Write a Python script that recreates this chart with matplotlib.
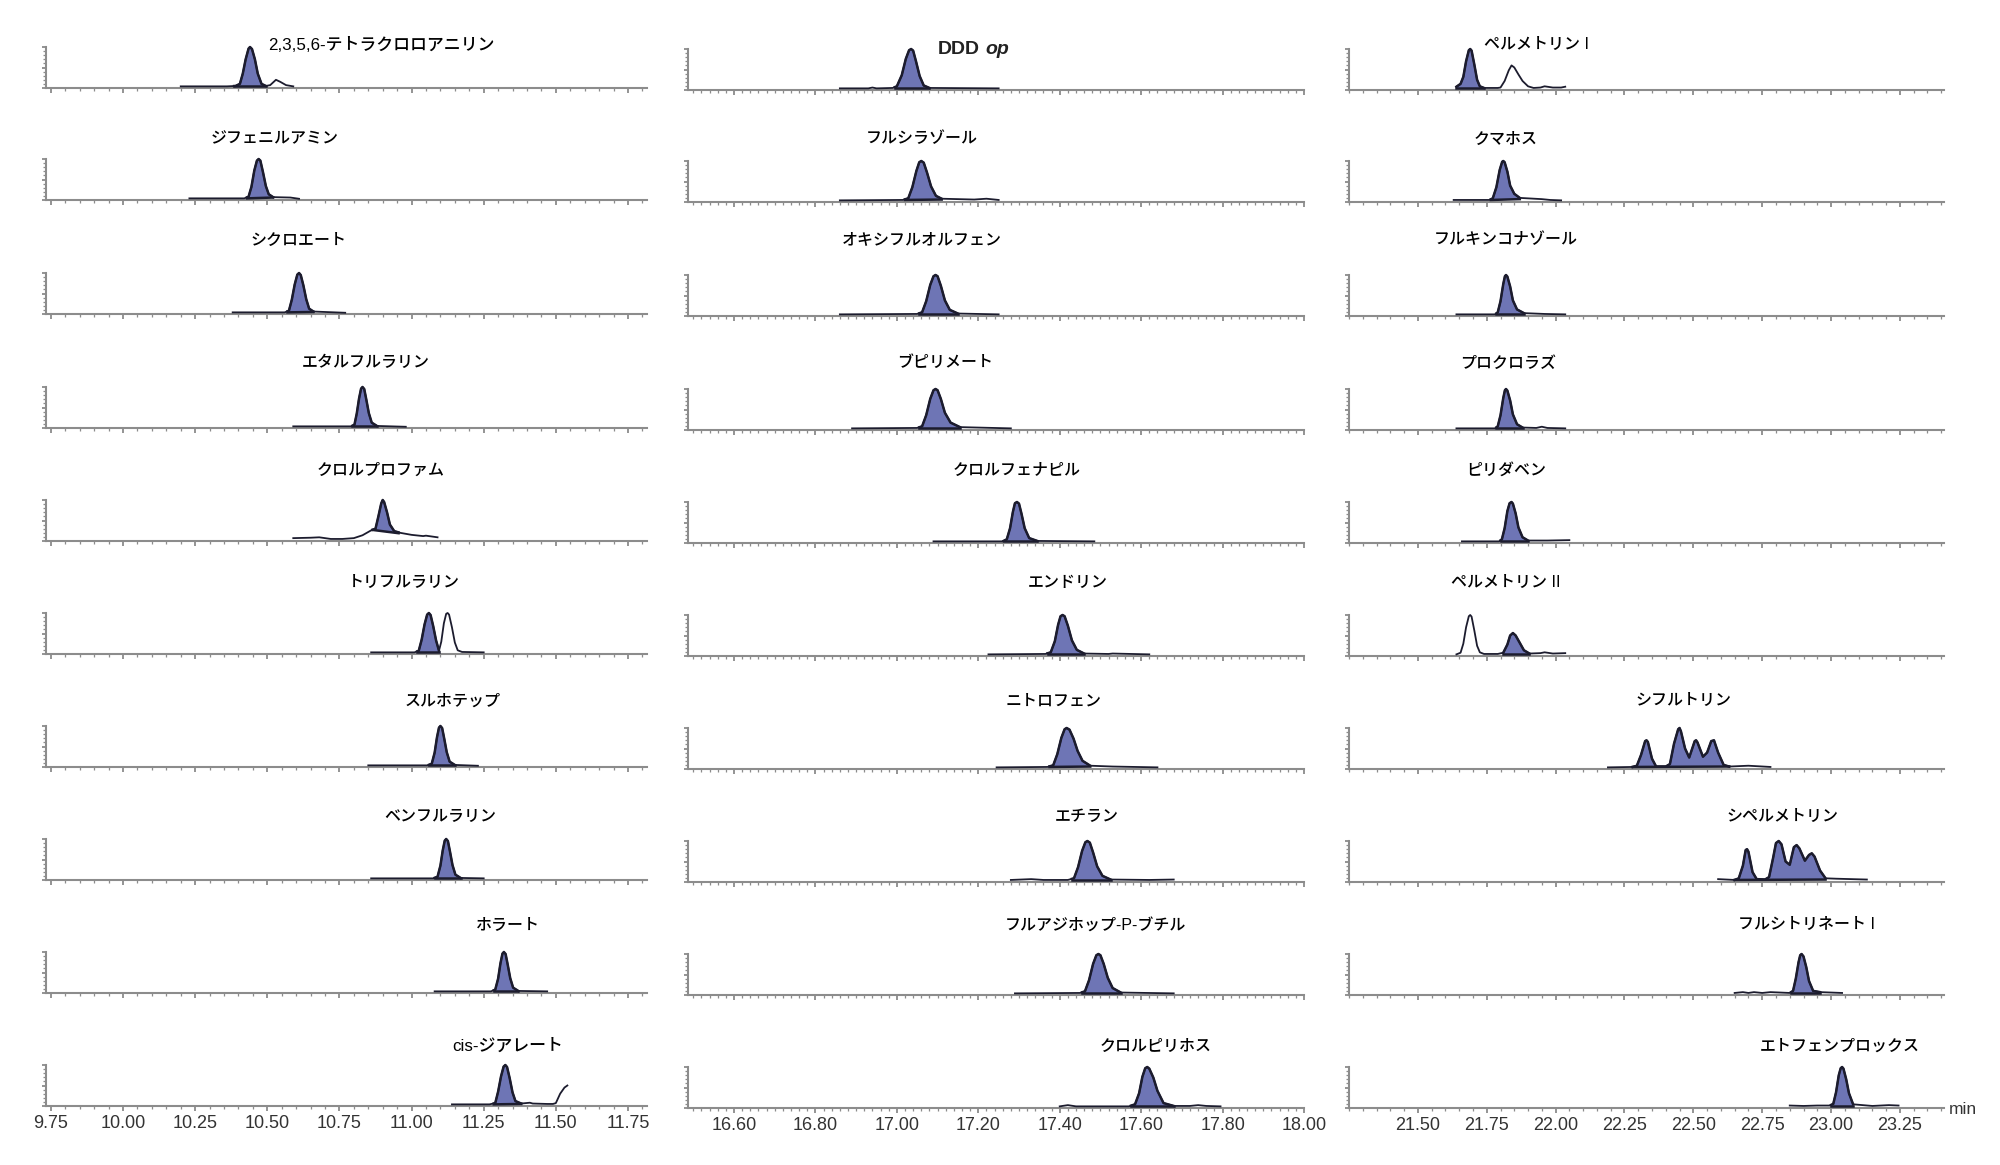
import matplotlib
matplotlib.use('Agg')
import matplotlib.pyplot as plt
import numpy as np
from matplotlib.ticker import MultipleLocator, FixedLocator

plt.rcParams['font.family'] = ['Liberation Sans', 'Noto Sans CJK JP']

W, H = 2000, 1165

names_left = ['2,3,5,6-テトラクロロアニリン', 'ジフェニルアミン', 'シクロエート', 'エタルフルラリン', 'クロルプロファム',
              'トリフルラリン', 'スルホテップ', 'ベンフルラリン', 'ホラート', 'cis-ジアレート']
names_mid = ['DDD op', 'フルシラゾール', 'オキシフルオルフェン', 'ブピリメート', 'クロルフェナピル',
             'エンドリン', 'ニトロフェン', 'エチラン', 'フルアジホップ-P-ブチル', 'クロルピリホス']
names_right = ['ペルメトリン I', 'クマホス', 'フルキンコナゾール', 'プロクロラズ', 'ピリダベン',
               'ペルメトリン II', 'シフルトリン', 'シペルメトリン', 'フルシトリネート I', 'エトフェンプロックス']

# left column traces
t_l1 = [10.20, 10.36, 10.39, 10.405, 10.415, 10.425, 10.435, 10.44, 10.447, 10.457, 10.467, 10.48, 10.495, 10.51, 10.53, 10.545, 10.565, 10.59]
y_l1 = [4, 4, 5, 10, 35, 70, 96, 100, 95, 70, 35, 10, 5, 7, 20, 15, 7, 4]
t_l2 = [10.23, 10.42, 10.435, 10.445, 10.455, 10.464, 10.47, 10.476, 10.485, 10.495, 10.505, 10.52, 10.58, 10.61]
y_l2 = [4, 4, 8, 32, 72, 96, 100, 96, 68, 34, 14, 7, 6, 3]
t_l3 = [10.38, 10.56, 10.575, 10.585, 10.595, 10.604, 10.61, 10.616, 10.625, 10.635, 10.645, 10.66, 10.77]
y_l3 = [4, 4, 8, 35, 72, 96, 100, 95, 70, 36, 13, 6, 3]
t_l4 = [10.59, 10.79, 10.802, 10.81, 10.818, 10.825, 10.83, 10.836, 10.843, 10.852, 10.862, 10.88, 10.98]
y_l4 = [4, 4, 8, 35, 72, 96, 100, 95, 70, 36, 13, 5, 3]
t_l5 = [10.59, 10.65, 10.68, 10.72, 10.76, 10.80, 10.83, 10.86, 10.875, 10.885, 10.895, 10.90, 10.905, 10.915, 10.925, 10.94, 10.96, 11.0, 11.04, 11.05, 11.09]
y_l5 = [7, 8, 9, 5, 5, 7, 14, 26, 30, 60, 92, 100, 95, 70, 40, 24, 20, 15, 12, 13, 9]
t_l6 = [10.86, 11.01, 11.025, 11.035, 11.045, 11.054, 11.06, 11.066, 11.075, 11.085, 11.095, 11.103, 11.112, 11.12, 11.125, 11.13, 11.14, 11.15, 11.16, 11.175, 11.25]
y_l6 = [4, 4, 8, 35, 72, 96, 100, 95, 68, 33, 8, 30, 75, 98, 100, 96, 65, 28, 9, 5, 4]
t_l7 = [10.85, 11.055, 11.07, 11.08, 11.088, 11.095, 11.10, 11.106, 11.113, 11.122, 11.132, 11.15, 11.23]
y_l7 = [4, 4, 8, 35, 72, 96, 100, 95, 70, 36, 13, 5, 3]
t_l8 = [10.86, 11.075, 11.09, 11.10, 11.108, 11.115, 11.12, 11.126, 11.133, 11.142, 11.152, 11.17, 11.25]
y_l8 = [4, 4, 8, 35, 72, 96, 100, 95, 70, 36, 13, 5, 4]
t_l9 = [11.08, 11.275, 11.29, 11.30, 11.308, 11.315, 11.32, 11.326, 11.333, 11.342, 11.352, 11.37, 11.47]
y_l9 = [4, 4, 8, 35, 72, 96, 100, 95, 70, 36, 13, 5, 4]
t_l10 = [11.14, 11.27, 11.29, 11.30, 11.31, 11.319, 11.325, 11.331, 11.34, 11.35, 11.36, 11.38, 11.41, 11.42, 11.47, 11.49, 11.50, 11.515, 11.53, 11.54]
y_l10 = [4, 4, 7, 35, 72, 96, 100, 95, 68, 33, 12, 6, 8, 6, 5, 5, 7, 30, 45, 50]

# middle column traces
t_m1 = [16.86, 16.93, 16.94, 16.95, 16.99, 17.0, 17.012, 17.022, 17.03, 17.035, 17.04, 17.047, 17.056, 17.066, 17.08, 17.25]
y_m1 = [4, 4, 6, 4, 5, 9, 36, 76, 97, 100, 96, 70, 34, 11, 5, 4]
t_m2 = [16.86, 17.015, 17.028, 17.038, 17.048, 17.055, 17.06, 17.066, 17.074, 17.084, 17.096, 17.11, 17.19, 17.22, 17.25]
y_m2 = [4, 5, 9, 36, 76, 97, 100, 96, 72, 38, 15, 8, 6, 8, 5]
t_m3 = [16.86, 17.05, 17.062, 17.072, 17.082, 17.09, 17.095, 17.10, 17.108, 17.118, 17.13, 17.15, 17.25]
y_m3 = [4, 5, 9, 36, 76, 97, 100, 97, 74, 38, 15, 6, 4]
t_m4 = [16.89, 17.05, 17.062, 17.072, 17.082, 17.09, 17.095, 17.10, 17.108, 17.118, 17.132, 17.155, 17.28]
y_m4 = [4, 5, 9, 36, 76, 97, 100, 97, 76, 42, 18, 7, 4]
t_m5 = [17.09, 17.26, 17.27, 17.278, 17.285, 17.29, 17.295, 17.30, 17.306, 17.314, 17.325, 17.345, 17.485]
y_m5 = [4, 4, 9, 36, 76, 97, 100, 96, 72, 36, 12, 5, 4]
t_m6 = [17.225, 17.365, 17.378, 17.388, 17.396, 17.402, 17.407, 17.412, 17.42, 17.43, 17.442, 17.46, 17.52, 17.53, 17.62]
y_m6 = [4, 5, 9, 36, 76, 97, 100, 97, 74, 38, 15, 6, 5, 6, 4]
t_m7 = [17.245, 17.37, 17.384, 17.394, 17.404, 17.412, 17.417, 17.424, 17.434, 17.444, 17.456, 17.475, 17.53, 17.64]
y_m7 = [4, 5, 9, 36, 76, 97, 100, 96, 74, 44, 20, 8, 6, 4]
t_m8 = [17.28, 17.33, 17.36, 17.42, 17.435, 17.445, 17.455, 17.463, 17.468, 17.474, 17.482, 17.492, 17.505, 17.525, 17.62, 17.68]
y_m8 = [5, 7, 5, 5, 9, 36, 76, 97, 100, 96, 72, 38, 15, 6, 5, 6]
t_m9 = [17.29, 17.45, 17.462, 17.472, 17.482, 17.49, 17.495, 17.50, 17.508, 17.518, 17.53, 17.55, 17.68]
y_m9 = [4, 5, 9, 36, 76, 97, 100, 97, 76, 42, 17, 6, 4]
t_m10 = [17.40, 17.42, 17.44, 17.57, 17.585, 17.595, 17.603, 17.61, 17.615, 17.62, 17.63, 17.64, 17.655, 17.68, 17.72, 17.74, 17.76, 17.795]
y_m10 = [4, 7, 4, 4, 9, 36, 76, 97, 100, 96, 74, 42, 12, 5, 5, 7, 5, 4]

# right column traces
t_r1 = [21.64, 21.655, 21.665, 21.675, 21.685, 21.69, 21.695, 21.705, 21.715, 21.725, 21.74, 21.79, 21.80, 21.815, 21.83, 21.84, 21.85, 21.865, 21.88, 21.90, 21.92, 21.945, 21.96, 21.99, 22.02, 22.035]
y_r1 = [8, 15, 32, 70, 97, 100, 96, 62, 25, 9, 5, 5, 6, 22, 48, 60, 55, 38, 22, 9, 5, 6, 9, 6, 6, 8]
t_r2 = [21.63, 21.76, 21.772, 21.785, 21.797, 21.806, 21.81, 21.815, 21.825, 21.835, 21.85, 21.87, 21.95, 21.98, 22.02]
y_r2 = [5, 5, 9, 36, 78, 98, 100, 97, 74, 40, 20, 10, 7, 5, 4]
t_r3 = [21.64, 21.78, 21.79, 21.80, 21.81, 21.816, 21.82, 21.825, 21.835, 21.845, 21.86, 21.885, 21.96, 22.035]
y_r3 = [4, 4, 9, 36, 78, 97, 100, 96, 72, 38, 16, 7, 5, 4]
t_r4 = [21.64, 21.78, 21.79, 21.80, 21.81, 21.816, 21.82, 21.825, 21.835, 21.845, 21.86, 21.88, 21.93, 21.95, 21.97, 22.035]
y_r4 = [4, 4, 9, 36, 78, 97, 100, 96, 72, 38, 14, 6, 5, 8, 5, 4]
t_r5 = [21.66, 21.795, 21.805, 21.815, 21.825, 21.833, 21.84, 21.845, 21.855, 21.865, 21.88, 21.90, 21.97, 22.05]
y_r5 = [4, 4, 9, 36, 78, 97, 100, 96, 72, 38, 14, 6, 6, 7]
t_r6 = [21.64, 21.655, 21.665, 21.675, 21.685, 21.69, 21.695, 21.705, 21.715, 21.725, 21.74, 21.79, 21.81, 21.825, 21.835, 21.845, 21.855, 21.87, 21.885, 21.905, 21.945, 21.96, 21.99, 22.035]
y_r6 = [4, 8, 30, 70, 97, 100, 96, 62, 25, 9, 5, 5, 8, 28, 50, 56, 50, 32, 14, 6, 7, 9, 6, 7]
t_r7 = [22.19, 22.28, 22.295, 22.31, 22.325, 22.33, 22.335, 22.35, 22.365, 22.40, 22.415, 22.43, 22.445, 22.45, 22.455, 22.47, 22.485, 22.505, 22.51, 22.515, 22.535, 22.55, 22.565, 22.575, 22.59, 22.61, 22.63, 22.70, 22.78]
y_r7 = [4, 5, 8, 34, 68, 70, 66, 25, 6, 6, 12, 62, 97, 100, 92, 50, 28, 68, 70, 65, 30, 40, 68, 70, 40, 10, 6, 8, 5]
t_r8 = [22.59, 22.65, 22.665, 22.68, 22.69, 22.695, 22.70, 22.715, 22.73, 22.76, 22.775, 22.79, 22.80, 22.81, 22.82, 22.835, 22.85, 22.865, 22.875, 22.885, 22.905, 22.92, 22.93, 22.94, 22.96, 22.98, 23.02, 23.13]
y_r8 = [7, 5, 9, 40, 78, 80, 74, 24, 7, 6, 12, 60, 95, 100, 92, 50, 42, 85, 90, 82, 52, 66, 70, 62, 28, 9, 8, 6]
t_r9 = [22.65, 22.68, 22.70, 22.72, 22.75, 22.78, 22.85, 22.862, 22.872, 22.882, 22.888, 22.893, 22.90, 22.91, 22.92, 22.935, 22.96, 23.04]
y_r9 = [5, 7, 5, 7, 5, 7, 5, 10, 40, 80, 97, 100, 94, 68, 34, 10, 7, 5]
t_r10 = [22.85, 22.90, 22.95, 22.995, 23.008, 23.018, 23.028, 23.035, 23.04, 23.045, 23.055, 23.065, 23.08, 23.15, 23.21, 23.245]
y_r10 = [6, 5, 6, 6, 10, 38, 80, 97, 100, 96, 70, 36, 9, 5, 7, 6]

# integrated window of every peak: start, end, baseline at start, baseline at end
fill_left = [(10.385, 10.495, 4, 4), (10.43, 10.52, 4, 6), (10.57, 10.66, 4, 5), (10.795, 10.88, 4, 4), (10.865, 10.955, 27, 19),
             (11.02, 11.095, 4, 4), (11.06, 11.15, 4, 4), (11.08, 11.17, 4, 4), (11.285, 11.37, 4, 4), (11.285, 11.38, 4, 5)]
fill_mid = [(16.995, 17.08, 5, 5), (17.02, 17.11, 5, 6), (17.055, 17.15, 5, 5), (17.055, 17.155, 5, 5), (17.262, 17.345, 4, 4),
            (17.37, 17.46, 5, 5), (17.375, 17.475, 5, 6), (17.43, 17.525, 5, 5), (17.455, 17.55, 5, 5), (17.575, 17.68, 4, 4)]
fill_right = [(21.64, 21.74, 5, 5), (21.765, 21.87, 5, 7), (21.785, 21.885, 5, 5), (21.785, 21.88, 5, 5), (21.80, 21.90, 5, 5),
              (21.81, 21.905, 6, 6), (22.28, 22.63, 5, 6), (22.65, 22.98, 5, 6), (22.855, 22.96, 5, 5), (23.0, 23.08, 5, 5)]

ticks_left = [9.75, 10.00, 10.25, 10.50, 10.75, 11.00, 11.25, 11.50, 11.75]
ticks_mid = [16.60, 16.80, 17.00, 17.20, 17.40, 17.60, 17.80, 18.00]
ticks_right = [21.50, 21.75, 22.00, 22.25, 22.50, 22.75, 23.00, 23.25]

xlim_left = (9.733, 11.816)
xlim_mid = (16.487, 18.0)
xlim_right = (21.25, 23.41)

# title positions, pixels in the full image
title_x_left = [381, 275, 298, 366, 381, 404, 453, 440, 508, 508]
title_x_mid = [980, 922, 922, 945, 1017, 1068, 1054, 1087, 1095, 1156]
title_x_right = [1537, 1506, 1506, 1508, 1506, 1506, 1683, 1782, 1806, 1840]
title_y = [45, 139, 240, 363, 470, 582, 701, 817, 925, 1046]
wide_latin_titles = ['2,3,5,6-テトラクロロアニリン', 'cis-ジアレート']

rows_px = np.array([88, 200, 314, 428, 541, 654, 767, 880, 993, 1106])


def draw_panel(ax, t, y, window):
    t0, t1, b0, b1 = window
    tf = np.array([t0] + [v for v in t if t0 < v < t1] + [t1])
    yf = np.interp(tf, t, y)
    base = np.interp(tf, [t0, t1], [b0, b1])
    ax.fill_between(tf, base, yf, color='#6e75b5', lw=0, clip_on=False, zorder=2)
    ax.plot(t, y, color='#1c1c2e', lw=1.3, clip_on=False, zorder=3)
    ax.plot(tf, yf, color='#1c1c2e', lw=1.8, clip_on=False, zorder=3)
    ax.plot([t0, t1], [b0, b1], color='#1c1c2e', lw=1.8, clip_on=False, zorder=3)


def setup_axes(ax, xlim, ticks, minor, last):
    ax.set_xlim(*xlim)
    ax.set_ylim(0, 100)
    for side in ['top', 'right']:
        ax.spines[side].set_visible(False)
    for side in ['left', 'bottom']:
        ax.spines[side].set_color('#8c8c8c')
        ax.spines[side].set_linewidth(1.5)
    ax.xaxis.set_major_locator(FixedLocator(ticks))
    ax.xaxis.set_minor_locator(MultipleLocator(minor))
    ax.yaxis.set_major_locator(FixedLocator([0, 50, 100]))
    ax.yaxis.set_minor_locator(MultipleLocator(10))
    ax.set_yticklabels([])
    ax.tick_params(axis='x', which='major', length=3.5, width=1.1, color='#777777', pad=3)
    ax.tick_params(axis='x', which='minor', length=2, width=0.9, color='#8c8c8c')
    ax.tick_params(axis='y', which='major', length=3, width=1.1, color='#777777')
    ax.tick_params(axis='y', which='minor', length=2, width=0.9, color='#8c8c8c')
    if last:
        ax.set_xticklabels(['%.2f' % v for v in ticks], fontsize=13, color='#333333')
    else:
        ax.set_xticklabels([])


fig = plt.figure(figsize=(W / 100, H / 100), dpi=100)

columns = [
    (46, 647, 0, xlim_left, ticks_left, 0.05, names_left, title_x_left, fill_left,
     [t_l1, t_l2, t_l3, t_l4, t_l5, t_l6, t_l7, t_l8, t_l9, t_l10],
     [y_l1, y_l2, y_l3, y_l4, y_l5, y_l6, y_l7, y_l8, y_l9, y_l10]),
    (688, 1304, 2, xlim_mid, ticks_mid, 0.02, names_mid, title_x_mid, fill_mid,
     [t_m1, t_m2, t_m3, t_m4, t_m5, t_m6, t_m7, t_m8, t_m9, t_m10],
     [y_m1, y_m2, y_m3, y_m4, y_m5, y_m6, y_m7, y_m8, y_m9, y_m10]),
    (1349, 1944, 2, xlim_right, ticks_right, 0.05, names_right, title_x_right, fill_right,
     [t_r1, t_r2, t_r3, t_r4, t_r5, t_r6, t_r7, t_r8, t_r9, t_r10],
     [y_r1, y_r2, y_r3, y_r4, y_r5, y_r6, y_r7, y_r8, y_r9, y_r10]),
]

panel_h = 41
for x0, x1, dy, xlim, ticks, minor, names, tx, fills, ts, ys in columns:
    for i in range(10):
        bottom = rows_px[i] + dy
        ax = fig.add_axes([x0 / W, 1 - bottom / H, (x1 - x0) / W, panel_h / H])
        ax.patch.set_alpha(0)
        setup_axes(ax, xlim, ticks, minor, i == 9)
        draw_panel(ax, ts[i], ys[i], fills[i])
        if names[i] == 'DDD op':
            fig.text(tx[i] / W, 1 - (title_y[i] + 5) / H, 'DDD', ha='right', va='center', fontsize=14,
                     fontweight='bold', color='#222222')
            fig.text((tx[i] + 5) / W, 1 - (title_y[i] + 5) / H, 'op', ha='left', va='center', fontsize=14,
                     fontweight='bold', style='italic', color='#222222')
        else:
            size = 12.2 if names[i] in wide_latin_titles else 11.5
            fig.text(tx[i] / W, 1 - title_y[i] / H, names[i], ha='center', va='center', fontsize=size,
                     fontweight='medium', color='black')

fig.text(1963 / W, 1 - 1110 / H, 'min', ha='center', va='center', fontsize=12.5, color='#333333')

fig.savefig('out.png', dpi=100)
